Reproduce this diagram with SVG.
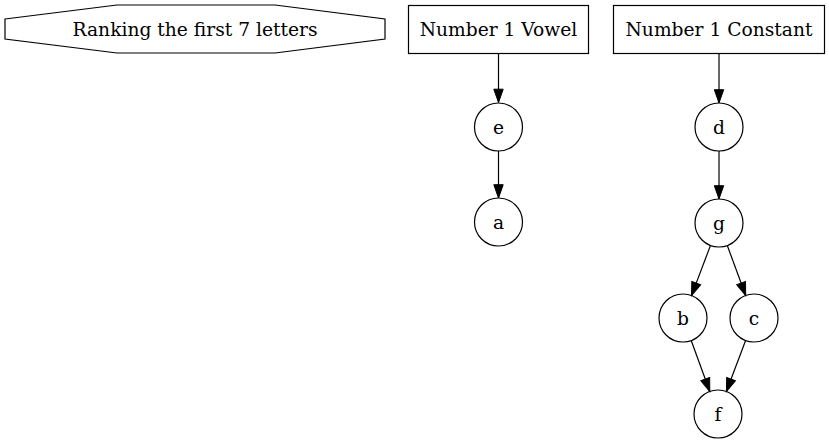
<svg xmlns="http://www.w3.org/2000/svg" width="829" height="444" viewBox="0 0 829 444">
<style>
.shape{fill:none;stroke:#000;stroke-width:1.2}
.lbl{font-family:"DejaVu Serif","Liberation Serif",serif;font-size:18.67px;text-anchor:middle;fill:#000}
.edge{fill:none;stroke:#000;stroke-width:1.2}
</style>
<defs>
<marker id="arrow" markerUnits="userSpaceOnUse" markerWidth="14" markerHeight="10" refX="13.3" refY="4.7" orient="auto" overflow="visible">
<path d="M0,0 L13.3,4.7 L0,9.4 z" fill="#000" stroke="#000" stroke-width="1"/>
</marker>
</defs>
<rect width="829" height="444" fill="#fff"/>
<g id="title">
<polygon class="shape" points="5,19 117,5 275,5 385,19 385,39 275,53 117,53 5,39"/>
<text class="lbl" x="195" y="35.5">Ranking the first 7 letters</text>
</g>
<g id="vowel">
<rect class="shape" x="408.5" y="5.5" width="180" height="48"/>
<text class="lbl" x="498.5" y="35.5">Number 1 Vowel</text>
</g>
<g id="constant">
<rect class="shape" x="613.5" y="5.5" width="211" height="48"/>
<text class="lbl" x="719" y="35.5">Number 1 Constant</text>
</g>
<g id="e"><circle class="shape" cx="498.5" cy="127" r="24"/><text class="lbl" x="498.5" y="133.5">e</text></g>
<g id="a"><circle class="shape" cx="498.5" cy="222" r="24"/><text class="lbl" x="498.5" y="228.5">a</text></g>
<g id="d"><circle class="shape" cx="719" cy="127" r="24"/><text class="lbl" x="719" y="133.5">d</text></g>
<g id="g"><circle class="shape" cx="719" cy="223" r="24"/><text class="lbl" x="719" y="229.5">g</text></g>
<g id="b"><circle class="shape" cx="683" cy="318" r="24"/><text class="lbl" x="683" y="324.5">b</text></g>
<g id="c"><circle class="shape" cx="754" cy="318" r="24"/><text class="lbl" x="754" y="324.5">c</text></g>
<g id="f"><circle class="shape" cx="718" cy="414" r="24"/><text class="lbl" x="718" y="420.5">f</text></g>
<g id="edges">
<line class="edge" x1="498.5" y1="53.5" x2="498.5" y2="102.5" marker-end="url(#arrow)"/>
<line class="edge" x1="498.5" y1="151" x2="498.5" y2="198" marker-end="url(#arrow)"/>
<line class="edge" x1="719" y1="53.5" x2="719" y2="103" marker-end="url(#arrow)"/>
<line class="edge" x1="719" y1="151" x2="719" y2="199" marker-end="url(#arrow)"/>
<line class="edge" x1="710.5" y1="245.4" x2="691.5" y2="295.6" marker-end="url(#arrow)"/>
<line class="edge" x1="727.3" y1="245.5" x2="745.7" y2="295.5" marker-end="url(#arrow)"/>
<line class="edge" x1="691.2" y1="340.5" x2="709.8" y2="391.5" marker-end="url(#arrow)"/>
<line class="edge" x1="745.6" y1="340.5" x2="726.4" y2="391.5" marker-end="url(#arrow)"/>
</g>
</svg>
